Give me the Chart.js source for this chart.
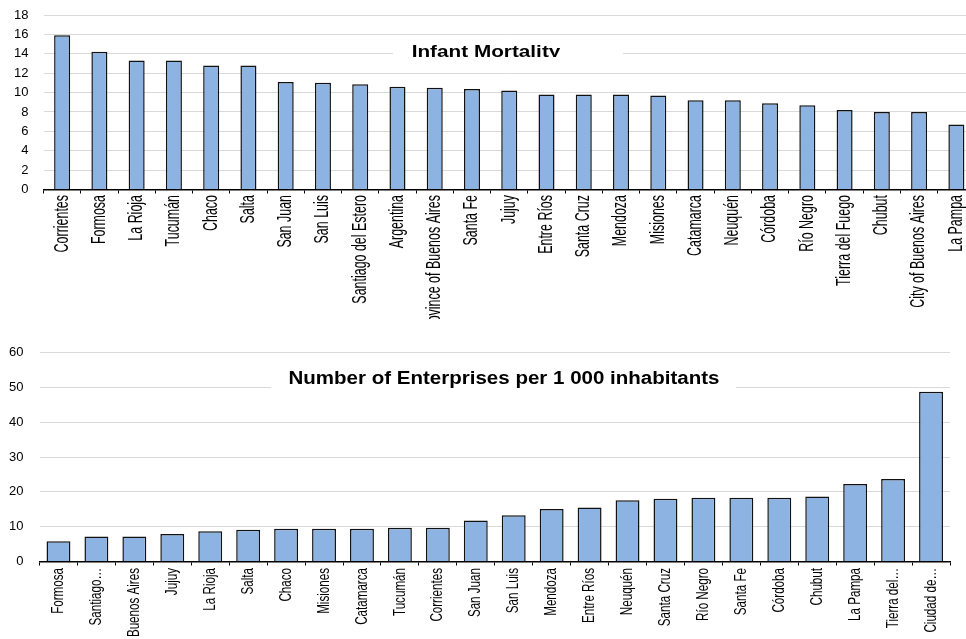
<!DOCTYPE html>
<html>
<head>
<meta charset="utf-8">
<script src="https://cdn.jsdelivr.net/npm/chart.js@4.4.1/dist/chart.umd.min.js"></script>
<style>
  html, body { margin: 0; padding: 0; background: #fff; overflow: hidden; }
  body { width: 966px; height: 639px; position: relative; }
  #wrapTop { position: absolute; left: 0; top: 0; width: 975px; height: 319px; }
  #wrapBottom { position: absolute; left: 0; top: 340px; width: 966px; height: 299px; }
</style>
</head>
<body>
<div id="wrapTop"><canvas id="mortalityChart"></canvas></div>
<div id="wrapBottom"><canvas id="enterpriseChart"></canvas></div>
<script>
// infant mortality by province
const mortalityLabels = [
  "Corrientes", "Formosa", "La Rioja", "Tucumán", "Chaco", "Salta",
  "San Juan", "San Luis", "Santiago del Estero", "Argentina",
  "Province of Buenos Aires", "Santa Fe", "Jujuy", "Entre Ríos",
  "Santa Cruz", "Mendoza", "Misiones", "Catamarca", "Neuquén", "Córdoba",
  "Río Negro", "Tierra del Fuego", "Chubut", "City of Buenos Aires", "La Pampa"
];
const mortalityValues = [
  15.9, 14.2, 13.3, 13.3, 12.8, 12.8,
  11.1, 11.0, 10.85, 10.6,
  10.5, 10.37, 10.2, 9.8,
  9.8, 9.8, 9.7, 9.2, 9.2, 8.9,
  8.7, 8.2, 8.0, 8.0, 6.7
];

// enterprises per 1 000 inhabitants
const enterpriseLabels = [
  "Formosa", "Santiago…", "Buenos Aires", "Jujuy", "La Rioja", "Salta",
  "Chaco", "Misiones", "Catamarca", "Tucumán", "Corrientes", "San Juan",
  "San Luis", "Mendoza", "Entre Ríos", "Neuquén", "Santa Cruz", "Río Negro",
  "Santa Fe", "Córdoba", "Chubut", "La Pampa", "Tierra del…", "Ciudad de…"
];
const enterpriseValues = [
  5.8, 7.2, 7.2, 7.9, 8.7, 9.1,
  9.4, 9.4, 9.4, 9.7, 9.7, 11.8,
  13.3, 15.1, 15.5, 17.6, 18.0, 18.3,
  18.3, 18.3, 18.7, 22.3, 23.7, 48.8
];

const barFill = "#8db3e2";
const gridGrey = "#d9d9d9";
const sansFont = "'Liberation Sans', Arial, sans-serif";

// white box with a bold caption sitting over the gridlines
function captionPlugin(text, box, cx, baseline, size, stretch) {
  return {
    id: "caption",
    beforeDatasetsDraw(chart) {
      const c = chart.ctx;
      c.save();
      c.fillStyle = "#fff";
      c.fillRect(box[0], box[1], box[2], box[3]);
      c.beginPath();
      c.rect(box[0], box[1], box[2], box[3]);
      c.clip();
      c.translate(cx, baseline);
      c.scale(stretch, 1);
      c.fillStyle = "#000";
      c.font = "bold " + size + "px " + sansFont;
      c.textAlign = "center";
      c.textBaseline = "alphabetic";
      c.fillText(text, 0, 0);
      c.restore();
    }
  };
}

// condensed vertical category names under the axis
function verticalLabels(size, along, across, gap) {
  return {
    id: "verticalLabels",
    afterDraw(chart) {
      const xs = chart.scales.x;
      const c = chart.ctx;
      c.save();
      c.fillStyle = "#000";
      c.font = size + "px " + sansFont;
      c.textAlign = "right";
      c.textBaseline = "middle";
      chart.data.labels.forEach((name, i) => {
        c.save();
        c.translate(xs.getPixelForValue(i), xs.top + gap);
        c.rotate(-Math.PI / 2);
        c.scale(along, across);
        c.fillText(name, 0, 0);
        c.restore();
      });
      c.restore();
    }
  };
}

function makeBarChart(id, labels, values, opts) {
  return new Chart(document.getElementById(id), {
    type: "bar",
    data: {
      labels: labels,
      datasets: [{
        data: values,
        backgroundColor: barFill,
        borderColor: "#111",
        borderWidth: 1.5,
        borderSkipped: "bottom",
        barPercentage: opts.barPct,
        categoryPercentage: 1
      }]
    },
    options: {
      responsive: true,
      maintainAspectRatio: false,
      animation: false,
      layout: { padding: opts.padding },
      plugins: { legend: { display: false }, tooltip: { enabled: false } },
      scales: {
        x: {
          grid: {
            display: true,
            drawOnChartArea: false,
            drawTicks: true,
            tickLength: 4,
            tickColor: "#000",
            offset: true
          },
          border: { display: true, color: "#000", width: 1.5 },
          ticks: {
            autoSkip: false,
            minRotation: 90,
            maxRotation: 90,
            color: "rgba(0,0,0,0)",
            font: { size: 10 }
          },
          afterFit(scale) {
            scale.height = opts.xHeight;
            scale.paddingLeft = 0;
            scale.paddingRight = 0;
          }
        },
        y: {
          min: 0,
          max: opts.yMax,
          ticks: {
            stepSize: opts.yStep,
            autoSkip: false,
            padding: opts.yPad,
            color: "#000",
            font: { family: sansFont, size: 13 }
          },
          grid: { color: gridGrey, lineWidth: 1, drawTicks: false },
          border: { display: false },
          afterFit(scale) {
            scale.width = opts.yWidth;
            scale.paddingTop = 0;
            scale.paddingBottom = 0;
          }
        }
      }
    },
    plugins: [opts.caption, opts.names]
  });
}

makeBarChart("mortalityChart", mortalityLabels, mortalityValues, {
  barPct: 0.43,
  padding: { top: 15, right: 0, bottom: 0, left: 0 },
  xHeight: 129.5,
  yMax: 18,
  yStep: 2,
  yPad: 15,
  yWidth: 43.5,
  caption: captionPlugin("Infant Mortality", [393, 36, 230, 21], 486, 56.5, 17, 1.22),
  names: verticalLabels(15, 0.83, 1.3, 5.5)
});

makeBarChart("enterpriseChart", enterpriseLabels, enterpriseValues, {
  barPct: 0.63,
  padding: { top: 12.7, right: 16, bottom: 0, left: 0 },
  xHeight: 77.5,
  yMax: 60,
  yStep: 10,
  yPad: 16,
  yWidth: 39.5,
  caption: captionPlugin("Number of Enterprises per 1 000 inhabitants", [271, 20, 465, 32], 504, 44, 18, 1.14),
  names: verticalLabels(14, 0.83, 1.2, 6.5)
});
</script>
</body>
</html>
